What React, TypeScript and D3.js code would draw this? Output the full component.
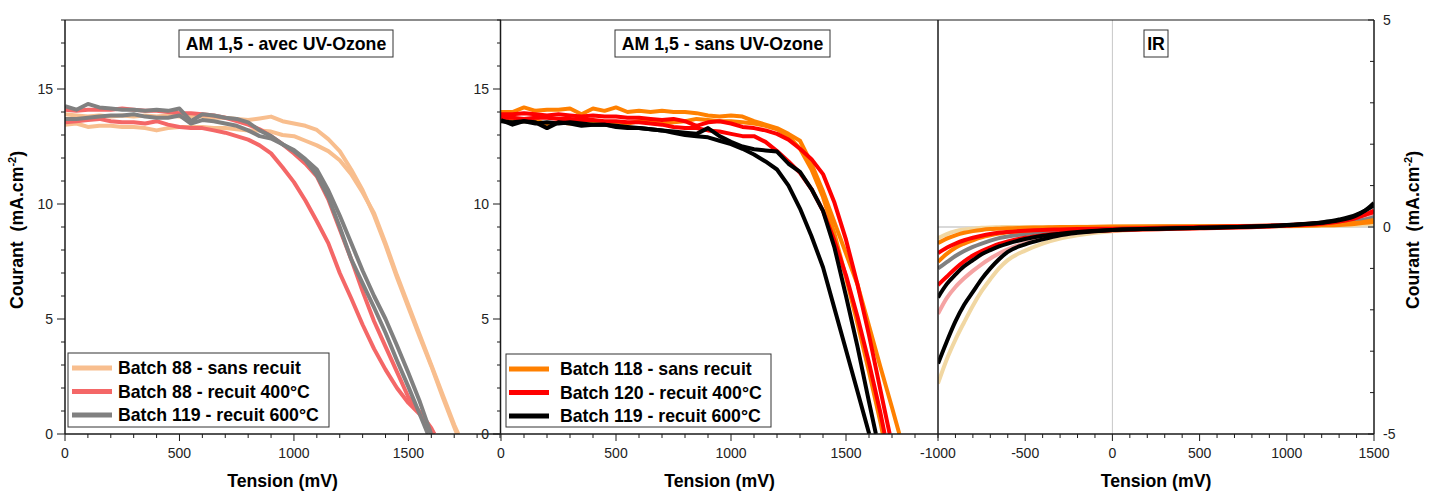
import React from 'react';
import * as d3 from 'd3';

type Pt = [number, number];

// ---------- Panel 1 : AM 1,5 - avec UV-Ozone (Tension mV, Courant mA.cm-2) ----------
const p1Batch88SansA: Pt[] = [[0,13.9],[50,13.85],[100,13.8],[150,13.85],[200,13.8],[250,13.85],[300,13.8],[350,13.85],[400,13.8],[450,13.85],[500,13.8],[550,13.8],[600,13.8],[650,13.75],[700,13.75],[750,13.7],[800,13.65],[850,13.72],[900,13.8],[950,13.6],[1000,13.5],[1050,13.4],[1100,13.22],[1150,12.82],[1200,12.3],[1250,11.5],[1300,10.6],[1350,9.5],[1400,8.2],[1450,6.8],[1500,5.5],[1550,4.2],[1600,2.95],[1650,1.6],[1700,0.3],[1712,0]];
const p1Batch88SansB: Pt[] = [[0,13.45],[50,13.5],[100,13.35],[150,13.4],[200,13.4],[250,13.35],[300,13.35],[350,13.3],[400,13.2],[450,13.3],[500,13.35],[550,13.35],[600,13.35],[650,13.3],[700,13.3],[750,13.25],[800,13.2],[850,13.2],[900,13.15],[950,13.0],[1000,12.95],[1050,12.75],[1100,12.55],[1150,12.3],[1200,11.9],[1250,11.3],[1300,10.5],[1350,9.6],[1400,8.3],[1450,6.9],[1500,5.6],[1550,4.3],[1600,3.0],[1650,1.7],[1700,0.4],[1718,0]];
const p1Batch88R400A: Pt[] = [[0,13.55],[50,13.6],[100,13.65],[150,13.7],[200,13.6],[250,13.55],[300,13.55],[350,13.5],[400,13.6],[450,13.45],[500,13.35],[550,13.3],[600,13.3],[650,13.2],[700,13.1],[750,12.95],[800,12.8],[850,12.55],[900,12.2],[950,11.6],[1000,10.95],[1050,10.15],[1100,9.25],[1150,8.3],[1200,7.0],[1250,5.9],[1300,4.75],[1350,3.7],[1400,2.8],[1450,2.0],[1500,1.35],[1550,0.85],[1600,0.15],[1612,0]];
const p1Batch88R400B: Pt[] = [[0,14.1],[50,14.05],[100,14.1],[150,14.1],[200,14.1],[250,14.15],[300,14.1],[350,14.05],[400,14.05],[450,14.0],[500,13.95],[550,13.95],[600,13.9],[650,13.85],[700,13.75],[750,13.6],[800,13.45],[850,13.25],[900,12.95],[950,12.6],[1000,12.2],[1050,11.75],[1100,11.2],[1150,10.2],[1200,8.9],[1250,7.6],[1300,6.2],[1350,4.9],[1400,3.8],[1450,2.7],[1500,1.6],[1550,0.95],[1600,0.25],[1613,0]];
const p1Batch119R600A: Pt[] = [[0,14.25],[50,14.1],[100,14.35],[150,14.2],[200,14.15],[250,14.1],[300,14.1],[350,14.05],[400,14.1],[450,14.05],[500,14.15],[550,13.6],[600,13.9],[650,13.85],[700,13.75],[750,13.7],[800,13.55],[850,13.2],[900,12.95],[950,12.6],[1000,12.3],[1050,11.9],[1100,11.25],[1150,10.3],[1200,9.0],[1250,7.6],[1300,6.55],[1350,5.5],[1400,4.4],[1450,3.2],[1500,2.05],[1550,0.85],[1585,0]];
const p1Batch119R600B: Pt[] = [[0,13.7],[50,13.7],[100,13.75],[150,13.8],[200,13.85],[250,13.85],[300,13.9],[350,13.8],[400,13.75],[450,13.75],[500,13.85],[550,13.5],[600,13.65],[650,13.6],[700,13.5],[750,13.4],[800,13.2],[850,12.95],[900,12.85],[950,12.6],[1000,12.35],[1050,11.95],[1100,11.5],[1150,10.6],[1200,9.5],[1250,8.3],[1300,7.1],[1350,6.0],[1400,5.0],[1450,3.85],[1500,2.65],[1550,1.4],[1599,0]];

// ---------- Panel 2 : AM 1,5 - sans UV-Ozone ----------
const p2Batch118SansA: Pt[] = [[0,14.0],[50,14.0],[100,14.2],[150,14.05],[200,14.1],[250,14.1],[300,14.15],[350,13.9],[400,14.15],[450,14.05],[500,14.2],[550,14.0],[600,14.05],[650,14.0],[700,14.05],[750,14.0],[800,14.0],[850,13.95],[900,13.85],[950,13.8],[1000,13.85],[1050,13.8],[1100,13.6],[1150,13.45],[1200,13.3],[1250,13.05],[1300,12.75],[1350,11.75],[1400,10.55],[1450,9.2],[1500,7.85],[1550,6.5],[1600,4.7],[1650,2.9],[1700,1.15],[1732,0]];
const p2Batch118SansB: Pt[] = [[0,13.75],[50,13.7],[100,13.6],[150,13.65],[200,13.45],[250,13.55],[300,13.5],[350,13.55],[400,13.6],[450,13.5],[500,13.55],[550,13.5],[600,13.6],[650,13.55],[700,13.5],[750,13.55],[800,13.6],[850,13.7],[900,13.65],[950,13.6],[1000,13.6],[1050,13.55],[1100,13.5],[1150,13.4],[1200,13.25],[1250,12.95],[1300,12.4],[1350,11.5],[1400,10.3],[1450,8.7],[1500,6.8],[1550,4.8],[1600,2.7],[1650,0.5],[1660,0]];
const p2Batch120R400A: Pt[] = [[0,13.9],[50,13.9],[100,13.95],[150,13.9],[200,13.85],[250,13.9],[300,13.85],[350,13.8],[400,13.85],[450,13.8],[500,13.8],[550,13.75],[600,13.75],[650,13.7],[700,13.65],[750,13.7],[800,13.6],[850,13.4],[900,13.55],[950,13.6],[1000,13.5],[1050,13.35],[1100,13.3],[1150,13.2],[1200,13.05],[1250,12.8],[1300,12.4],[1350,11.95],[1400,11.3],[1450,10.05],[1500,8.45],[1550,6.5],[1600,4.3],[1650,1.9],[1690,0]];
const p2Batch120R400B: Pt[] = [[0,13.75],[50,13.75],[100,13.7],[150,13.75],[200,13.75],[250,13.7],[300,13.7],[350,13.65],[400,13.65],[450,13.6],[500,13.6],[550,13.55],[600,13.55],[650,13.5],[700,13.45],[750,13.35],[800,13.3],[850,13.3],[900,13.2],[950,13.15],[1000,13.05],[1050,12.95],[1100,12.95],[1150,12.7],[1200,12.3],[1250,11.85],[1300,11.35],[1350,10.65],[1400,9.7],[1450,8.4],[1500,6.9],[1550,5.1],[1600,3.1],[1650,0.9],[1668,0]];
const p2Batch119R600A: Pt[] = [[0,13.6],[50,13.55],[100,13.6],[150,13.5],[200,13.55],[250,13.5],[300,13.55],[350,13.5],[400,13.45],[450,13.45],[500,13.4],[550,13.35],[600,13.3],[650,13.25],[700,13.2],[750,13.15],[800,13.1],[850,13.05],[900,13.3],[950,12.95],[1000,12.7],[1050,12.5],[1100,12.38],[1150,12.33],[1200,12.28],[1250,11.75],[1300,11.4],[1350,10.65],[1400,9.7],[1450,8.1],[1500,6.0],[1550,3.8],[1600,1.4],[1630,0]];
const p2Batch119R600B: Pt[] = [[0,13.65],[50,13.45],[100,13.6],[150,13.55],[200,13.3],[250,13.55],[300,13.5],[350,13.4],[400,13.45],[450,13.45],[500,13.35],[550,13.3],[600,13.3],[650,13.25],[700,13.2],[750,13.1],[800,13.0],[850,12.95],[900,12.9],[950,12.75],[1000,12.6],[1050,12.4],[1100,12.15],[1150,11.85],[1200,11.5],[1250,10.8],[1300,9.8],[1350,8.6],[1400,7.25],[1450,5.45],[1500,3.65],[1550,1.85],[1601,0]];

// ---------- Panel 3 : IR ----------
const irVoltage = [-1000,-950,-900,-850,-800,-750,-700,-650,-600,-500,-400,-300,-200,0,500,1000,1200,1300,1400,1450,1500];
const irTanTop = [-0.27,-0.17,-0.1,-0.06,-0.04,-0.02,-0.01,-0.005,0,0,0,0,0.005,0.01,0.02,0.02,0.03,0.04,0.05,0.06,0.07];
const irTanBottom = [-3.78,-3.2,-2.72,-2.3,-1.9,-1.55,-1.26,-1.0,-0.8,-0.57,-0.4,-0.28,-0.2,-0.1,-0.03,0.02,0.05,0.08,0.12,0.15,0.2];
const irPink = [-2.1,-1.72,-1.45,-1.24,-1.06,-0.9,-0.76,-0.64,-0.54,-0.39,-0.28,-0.2,-0.14,-0.06,-0.01,0.03,0.07,0.1,0.16,0.21,0.28];
const irGray = [-1.0,-0.85,-0.7,-0.58,-0.48,-0.4,-0.33,-0.27,-0.23,-0.17,-0.12,-0.09,-0.07,-0.04,0,0.03,0.06,0.09,0.14,0.18,0.24];
const irOrangeA = [-0.39,-0.28,-0.2,-0.14,-0.1,-0.07,-0.05,-0.04,-0.03,-0.02,-0.01,0,0,0.01,0.02,0.03,0.04,0.05,0.08,0.1,0.13];
const irOrangeB = [-0.84,-0.65,-0.5,-0.4,-0.32,-0.25,-0.2,-0.16,-0.13,-0.09,-0.06,-0.04,-0.03,-0.01,0.01,0.03,0.05,0.07,0.1,0.13,0.17];
const irRedA = [-0.63,-0.5,-0.4,-0.32,-0.26,-0.21,-0.17,-0.14,-0.12,-0.09,-0.07,-0.06,-0.05,-0.04,0,0.05,0.1,0.15,0.24,0.3,0.36];
const irRedB = [-1.4,-1.2,-1.0,-0.83,-0.69,-0.58,-0.49,-0.41,-0.35,-0.26,-0.2,-0.15,-0.12,-0.08,-0.03,0.03,0.08,0.13,0.22,0.3,0.4];
const irBlackA = [-1.7,-1.38,-1.15,-0.95,-0.8,-0.66,-0.56,-0.47,-0.4,-0.29,-0.21,-0.16,-0.12,-0.07,-0.02,0.05,0.11,0.18,0.3,0.4,0.52];
const irBlackB = [-3.3,-2.77,-2.28,-1.88,-1.57,-1.26,-1.0,-0.78,-0.6,-0.42,-0.3,-0.2,-0.14,-0.07,-0.02,0.04,0.1,0.16,0.28,0.4,0.58];

// ---------- Labels & ticks ----------
const panelTitles = ['AM 1,5 - avec UV-Ozone', 'AM 1,5 - sans UV-Ozone', 'IR'];
const legend1 = ['Batch 88 - sans recuit', 'Batch 88 - recuit 400°C', 'Batch 119 - recuit 600°C'];
const legend2 = ['Batch 118 - sans recuit', 'Batch 120 - recuit 400°C', 'Batch 119 - recuit 600°C'];
const xMajorTicks = [0, 500, 1000, 1500];
const xMajorTicksIR = [-1000, -500, 0, 500, 1000, 1500];
const yMajorTicks = [0, 5, 10, 15];
const yMajorTicksIR = [-5, 0, 5];
const xTitle = 'Tension (mV)';

const COLORS = {
  peach: '#F8BE8E',
  salmon: '#F46767',
  gray: '#808080',
  orange: '#FF8000',
  red: '#FF0000',
  black: '#000000',
  tan: '#F1D7A2',
  pink: '#F5A3A3',
};

const FONT = "'Liberation Sans', Arial, Helvetica, sans-serif";
const TOP = 20;
const BOTTOM = 434;

export default function App() {
  const yJ = d3.scaleLinear().domain([0, 18]).range([BOTTOM, TOP]);
  const x1 = d3.scaleLinear().domain([0, 1900]).range([65, 500]);
  const x2 = d3.scaleLinear().domain([0, 1900]).range([501, 938]);
  const x3 = d3.scaleLinear().domain([-1000, 1500]).range([938, 1374]);
  const y3 = d3.scaleLinear().domain([-5, 5]).range([BOTTOM, TOP]);

  const panel1 = [
    { color: COLORS.peach, curves: [p1Batch88SansA, p1Batch88SansB] },
    { color: COLORS.salmon, curves: [p1Batch88R400A, p1Batch88R400B] },
    { color: COLORS.gray, curves: [p1Batch119R600A, p1Batch119R600B] },
  ];
  const panel2 = [
    { color: COLORS.orange, curves: [p2Batch118SansA, p2Batch118SansB] },
    { color: COLORS.red, curves: [p2Batch120R400A, p2Batch120R400B] },
    { color: COLORS.black, curves: [p2Batch119R600A, p2Batch119R600B] },
  ];
  const irCurves: { color: string; values: number[] }[] = [
    { color: COLORS.tan, values: irTanTop },
    { color: COLORS.tan, values: irTanBottom },
    { color: COLORS.pink, values: irPink },
    { color: COLORS.gray, values: irGray },
    { color: COLORS.orange, values: irOrangeA },
    { color: COLORS.orange, values: irOrangeB },
    { color: COLORS.red, values: irRedA },
    { color: COLORS.red, values: irRedB },
    { color: COLORS.black, values: irBlackA },
    { color: COLORS.black, values: irBlackB },
  ];

  const line1 = d3.line<Pt>().x((d) => x1(d[0])).y((d) => yJ(d[1]));
  const line2 = d3.line<Pt>().x((d) => x2(d[0])).y((d) => yJ(d[1]));
  const line3 = d3
    .line<number>()
    .x((_, i) => x3(irVoltage[i]))
    .y((d) => y3(d))
    .curve(d3.curveMonotoneX);

  const axisColor = '#1a1a1a';
  const tickColor = '#222';
  const MAJ = 7;
  const MIN = 4;

  const xAxisTicks = (scale: d3.ScaleLinear<number, number>, majors: number[], step: number, key: string) => {
    const [d0, d1] = scale.domain();
    const minors = d3.range(d0, d1 + 1, step).filter((v) => !majors.includes(v));
    return (
      <g key={key}>
        {minors.map((v) => (
          <line key={'m' + v} x1={scale(v)} x2={scale(v)} y1={BOTTOM} y2={BOTTOM + MIN} stroke={axisColor} strokeWidth={1} />
        ))}
        {majors.map((v) => (
          <g key={'M' + v}>
            <line x1={scale(v)} x2={scale(v)} y1={BOTTOM} y2={BOTTOM + MAJ} stroke={axisColor} strokeWidth={1} />
            <text x={scale(v)} y={458} textAnchor="middle" fontSize={14} fill={tickColor} fontFamily={FONT}>
              {v}
            </text>
          </g>
        ))}
      </g>
    );
  };

  const yAxisTicksLeft = (xPos: number, key: string) => {
    const minors = d3.range(0, 19, 1).filter((v) => !yMajorTicks.includes(v));
    return (
      <g key={key}>
        {minors.map((v) => (
          <line key={'m' + v} x1={xPos - MIN} x2={xPos} y1={yJ(v)} y2={yJ(v)} stroke={axisColor} strokeWidth={1} />
        ))}
        {yMajorTicks.map((v) => (
          <g key={'M' + v}>
            <line x1={xPos - MAJ - 1} x2={xPos} y1={yJ(v)} y2={yJ(v)} stroke={axisColor} strokeWidth={1} />
            <text x={xPos - 12} y={yJ(v) + 5} textAnchor="end" fontSize={14} fill={tickColor} fontFamily={FONT}>
              {v}
            </text>
          </g>
        ))}
      </g>
    );
  };

  const yAxisIR = () => {
    const xPos = 1374;
    const minors = d3.range(-5, 6, 1).filter((v) => !yMajorTicksIR.includes(v));
    return (
      <g>
        {minors.map((v) => (
          <line key={'m' + v} x1={xPos - MIN} x2={xPos} y1={y3(v)} y2={y3(v)} stroke={axisColor} strokeWidth={1} />
        ))}
        {yMajorTicksIR.map((v) => (
          <g key={'M' + v}>
            <line x1={xPos - MAJ + 1} x2={xPos} y1={y3(v)} y2={y3(v)} stroke={axisColor} strokeWidth={1} />
            <text x={xPos + 9} y={y3(v) + 5} textAnchor="start" fontSize={14} fill={tickColor} fontFamily={FONT}>
              {v}
            </text>
          </g>
        ))}
      </g>
    );
  };

  const titleBox = (cx: number, w: number, label: string) => (
    <g key={label}>
      <rect x={cx - w / 2} y={30} width={w} height={27} fill="#fff" stroke="#333" strokeWidth={1} />
      <text x={cx} y={50} textAnchor="middle" fontSize={17.7} fontWeight="bold" fontFamily={FONT} fill="#000">
        {label}
      </text>
    </g>
  );

  const legendBox = (
    bx: number,
    by: number,
    bw: number,
    bh: number,
    lx0: number,
    lx1: number,
    tx: number,
    labels: string[],
    colors: string[],
    key: string
  ) => (
    <g key={key}>
      <rect x={bx} y={by} width={bw} height={bh} fill="#fff" stroke="#333" strokeWidth={1} />
      {labels.map((lab, i) => {
        const cy = by + 15 + i * 23.5;
        return (
          <g key={lab}>
            <line x1={lx0} x2={lx1} y1={cy} y2={cy} stroke={colors[i]} strokeWidth={5} />
            <text x={tx} y={cy + 6} fontSize={17.7} fontWeight="bold" fontFamily={FONT} fill="#000">
              {lab}
            </text>
          </g>
        );
      })}
    </g>
  );

  const yTitle = (x: number, key: string) => (
    <text
      key={key}
      transform={`translate(${x},230) rotate(-90)`}
      textAnchor="middle"
      fontSize={17.7}
      fontWeight="bold"
      fontFamily={FONT}
      fill="#000"
      style={{ whiteSpace: 'pre' }}
    >
      {'Courant  (mA.cm'}
      <tspan fontSize={11} dy={-7}>
        -2
      </tspan>
      <tspan dy={7}>)</tspan>
    </text>
  );

  return (
    <svg
      width={1434}
      height={491}
      style={{ position: 'absolute', left: 0, top: 0, background: '#fff' }}
      xmlns="http://www.w3.org/2000/svg"
    >
      <defs>
        <clipPath id="c1">
          <rect x={65} y={TOP} width={435} height={BOTTOM - TOP} />
        </clipPath>
        <clipPath id="c2">
          <rect x={501} y={TOP} width={437} height={BOTTOM - TOP} />
        </clipPath>
        <clipPath id="c3">
          <rect x={938} y={TOP} width={436} height={BOTTOM - TOP} />
        </clipPath>
      </defs>
      <rect x={0} y={0} width={1434} height={491} fill="#fff" />

      {/* IR reference lines */}
      <line x1={x3(0)} x2={x3(0)} y1={TOP} y2={BOTTOM} stroke="#c8c8c8" strokeWidth={1} />
      <line x1={938} x2={1374} y1={y3(0)} y2={y3(0)} stroke="#d9d9d9" strokeWidth={2} />

      {/* Panel 1 curves */}
      <g clipPath="url(#c1)">
        {panel1.map((s, si) =>
          s.curves.map((c, ci) => (
            <path key={`p1-${si}-${ci}`} d={line1(c) || ''} fill="none" stroke={s.color} strokeWidth={4} strokeLinejoin="round" />
          ))
        )}
      </g>
      {/* Panel 2 curves */}
      <g clipPath="url(#c2)">
        {panel2.map((s, si) =>
          s.curves.map((c, ci) => (
            <path key={`p2-${si}-${ci}`} d={line2(c) || ''} fill="none" stroke={s.color} strokeWidth={4} strokeLinejoin="round" />
          ))
        )}
      </g>
      {/* Panel 3 curves */}
      <g clipPath="url(#c3)">
        {irCurves.map((c, i) => (
          <path key={`p3-${i}`} d={line3(c.values) || ''} fill="none" stroke={c.color} strokeWidth={4} strokeLinejoin="round" />
        ))}
      </g>

      {/* Frames */}
      <line x1={65} x2={1374} y1={TOP} y2={TOP} stroke={axisColor} strokeWidth={1.2} />
      <line x1={65} x2={1374} y1={BOTTOM} y2={BOTTOM} stroke={axisColor} strokeWidth={1.5} />
      <line x1={65} x2={65} y1={TOP} y2={BOTTOM} stroke={axisColor} strokeWidth={1.5} />
      <line x1={500.5} x2={500.5} y1={TOP} y2={BOTTOM} stroke={axisColor} strokeWidth={1.5} />
      <line x1={938} x2={938} y1={TOP} y2={BOTTOM} stroke={axisColor} strokeWidth={1.5} />
      <line x1={1374} x2={1374} y1={TOP} y2={BOTTOM} stroke={axisColor} strokeWidth={1.5} />

      {/* Axes */}
      {xAxisTicks(x1, xMajorTicks, 100, 'xa1')}
      {xAxisTicks(x2, xMajorTicks, 100, 'xa2')}
      {xAxisTicks(x3, xMajorTicksIR, 100, 'xa3')}
      {yAxisTicksLeft(65, 'ya1')}
      {yAxisTicksLeft(501, 'ya2')}
      {yAxisIR()}

      {/* Titles */}
      {titleBox(286, 214, panelTitles[0])}
      {titleBox(722.5, 215, panelTitles[1])}
      {titleBox(1156, 24, panelTitles[2])}

      {/* Legends */}
      {legendBox(68, 353, 261, 74, 72, 112, 118, legend1, [COLORS.peach, COLORS.salmon, COLORS.gray], 'lg1')}
      {legendBox(506, 354, 265, 73, 509, 549, 560, legend2, [COLORS.orange, COLORS.red, COLORS.black], 'lg2')}

      {/* Axis titles */}
      {[x1, x2, x3].map((s, i) => {
        const [r0, r1] = s.range();
        return (
          <text key={'xt' + i} x={(r0 + r1) / 2} y={487} textAnchor="middle" fontSize={17.7} fontWeight="bold" fontFamily={FONT} fill="#000">
            {xTitle}
          </text>
        );
      })}
      {yTitle(23, 'yt1')}
      {yTitle(1419, 'yt2')}
    </svg>
  );
}
